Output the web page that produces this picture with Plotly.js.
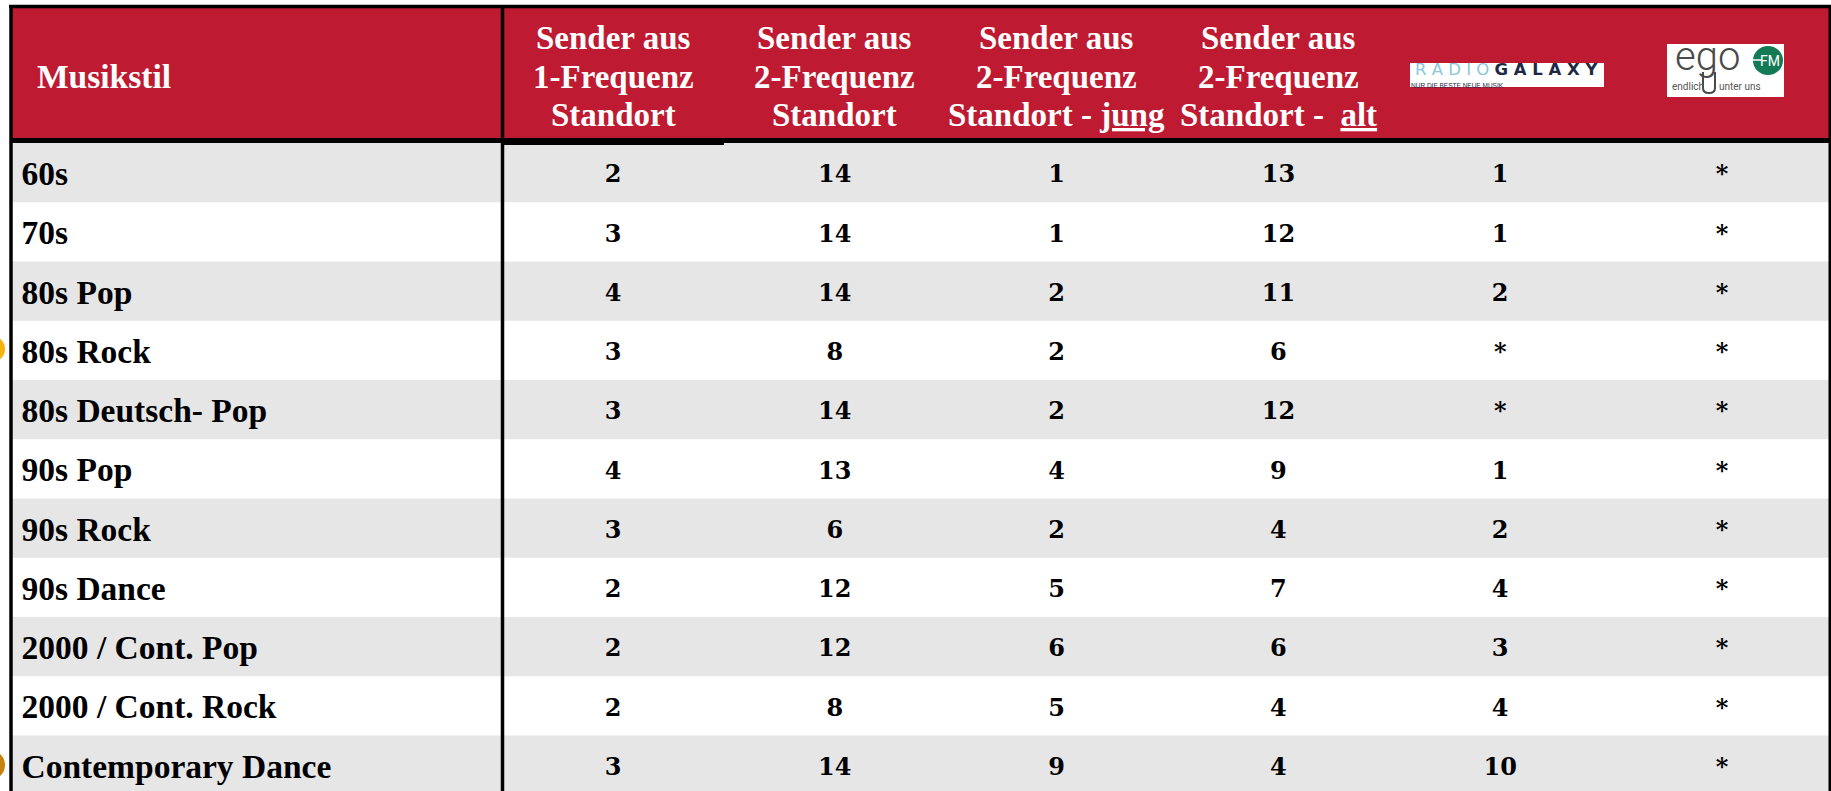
<!DOCTYPE html>
<html>
<head>
<meta charset="utf-8">
<script src="https://cdn.plot.ly/plotly-3.0.1.min.js"></script>
<style>
  html, body { margin: 0; padding: 0; background: #ffffff; }
  #chart { width: 1831px; height: 791px; }
</style>
</head>
<body>
<div id="chart"></div>
<script>
// ---------------- data ----------------
const musikstil = [
  "60s", "70s", "80s Pop", "80s Rock", "80s Deutsch- Pop", "90s Pop",
  "90s Rock", "90s Dance", "2000 / Cont. Pop", "2000 / Cont. Rock", "Contemporary Dance"
];
const sender1Frequenz      = ["2", "3", "4", "3", "3", "4", "3", "2", "2", "2", "3"];
const sender2Frequenz      = ["14", "14", "14", "8", "14", "13", "6", "12", "12", "8", "14"];
const sender2FrequenzJung  = ["1", "1", "2", "2", "2", "4", "2", "5", "6", "5", "9"];
const sender2FrequenzAlt   = ["13", "12", "11", "6", "12", "9", "4", "7", "6", "4", "4"];
const radioGalaxy          = ["1", "1", "2", "*", "*", "1", "2", "4", "3", "4", "10"];
const egoFM                = ["*", "*", "*", "*", "*", "*", "*", "*", "*", "*", "*"];

const firstHeader = "Musikstil";
const headerLines = [
  ["Sender aus", "1-Frequenz", "Standort"],
  ["Sender aus", "2-Frequenz", "Standort"],
  ["Sender aus", "2-Frequenz", "Standort - <u>jung</u>"],
  ["Sender aus", "2-Frequenz", "Standort -  <u>alt</u>"]
];
const logoRadioGalaxy = ["R A D I O", "G A L A X Y", "NUR DIE BESTE NEUE MUSIK"];
const logoEgo = ["ego", "FM", "endlich", "unter uns"];

// ---------------- layout geometry ----------------
const W = 1831, H = 791;
const tableLeft = 11, tableRight = 1830;
const headerTop = 6.5, headerBottom = 140.5;
const firstRowTop = 143, rowH = 59.25;
const divX = 502.5;
const colCenter0 = 613, colStep = 221.8;
const RED = "#BE1A31", GRAY = "#E6E6E6";

const valueColumns = [sender1Frequenz, sender2Frequenz, sender2FrequenzJung, sender2FrequenzAlt, radioGalaxy, egoFM];
const rowTop = i => firstRowTop + i * rowH;
const colX = j => colCenter0 + j * colStep;

const shapes = [];
// header background
shapes.push({type: "rect", xref: "x", yref: "y", x0: tableLeft, x1: tableRight, y0: headerTop, y1: headerBottom,
  fillcolor: RED, line: {width: 0}, layer: "below"});
// row backgrounds
musikstil.forEach((_, i) => {
  shapes.push({type: "rect", xref: "x", yref: "y", x0: tableLeft, x1: tableRight,
    y0: rowTop(i), y1: rowTop(i) + rowH + 0.5,
    fillcolor: i % 2 === 0 ? GRAY : "#FFFFFF", line: {width: 0}, layer: "below"});
});
// decorative circles at left edge
shapes.push({type: "circle", xref: "x", yref: "y", x0: -21, x1: 5, y0: 336, y1: 362,
  fillcolor: "#F4B40C", line: {width: 0}, layer: "below"});
shapes.push({type: "circle", xref: "x", yref: "y", x0: -25, x1: 5, y0: 750, y1: 780,
  fillcolor: "#C8820F", line: {width: 0}, layer: "below"});
// borders
const blk = (x0, y0, x1, y1, w) => shapes.push({type: "line", xref: "x", yref: "y", x0, y0, x1, y1,
  line: {color: "#000000", width: w}, layer: "below"});
blk(9, headerTop, W, headerTop, 3.5);              // top
blk(tableLeft, 5, tableLeft, H, 3.5);              // left
blk(tableRight, 5, tableRight, H, 3);              // right
blk(divX, 5, divX, H, 3.5);                        // first column divider
blk(tableLeft, headerBottom, tableRight, headerBottom, 5); // header bottom
shapes.push({type: "rect", xref: "x", yref: "y", x0: divX, x1: 724, y0: 138, y1: 145,
  fillcolor: "#000000", line: {width: 0}, layer: "below"});

// logos (white boxes + green circle)
shapes.push({type: "rect", xref: "x", yref: "y", x0: 1410, x1: 1604, y0: 63, y1: 87,
  fillcolor: "#FFFFFF", line: {width: 0}, layer: "below"});
shapes.push({type: "rect", xref: "x", yref: "y", x0: 1667, x1: 1784, y0: 44, y1: 97,
  fillcolor: "#FFFFFF", line: {width: 0}, layer: "below"});
shapes.push({type: "circle", xref: "x", yref: "y", x0: 1753, x1: 1783, y0: 46, y1: 75,
  fillcolor: "#137A55", line: {width: 0}, layer: "below"});
shapes.push({type: "line", xref: "x", yref: "y", x0: 1744, x1: 1762, y0: 60, y1: 60,
  line: {color: "#FFFFFF", width: 1.5}, layer: "below"});
// "g" loop of the ego logo
shapes.push({type: "path", xref: "x", yref: "y",
  path: "M 1703 72 L 1703 88 Q 1703 93 1709 93 Q 1715 93 1715 88 L 1715 72",
  line: {color: "#4A4A4A", width: 2}, layer: "below"});

// ---------------- annotations (header) ----------------
const annotations = [];
const hdrFont = {family: "Liberation Serif", size: 33, color: "#FFFFFF", weight: "bold"};
annotations.push({xref: "x", yref: "y", x: 35, y: 76, text: "<b>" + firstHeader + "</b>",
  showarrow: false, xanchor: "left", yanchor: "middle", font: {...hdrFont, size: 33.5}});
const hdrY = [38, 77, 114.5];
headerLines.forEach((lines, j) => {
  lines.forEach((t, k) => {
    annotations.push({xref: "x", yref: "y", x: colX(j), y: hdrY[k], text: "<b>" + t + "</b>",
      showarrow: false, xanchor: "center", yanchor: "middle", font: hdrFont});
  });
});
// Radio Galaxy logo text (one line, two colours)
annotations.push({xref: "x", yref: "y", x: 1507, y: 69, showarrow: false,
  text: "<span style='color:#8CC8DA'>" + logoRadioGalaxy[0] + "</span> <b>" + logoRadioGalaxy[1] + "</b>",
  xanchor: "center", yanchor: "middle", font: {family: "DejaVu Sans", size: 16.5, color: "#1D2947"}});
annotations.push({xref: "x", yref: "y", x: 1409, y: 85.3, text: logoRadioGalaxy[2], showarrow: false,
  xanchor: "left", yanchor: "middle", font: {family: "Liberation Sans", size: 6.5, color: "#1D2947"}});
// ego FM logo text
annotations.push({xref: "x", yref: "y", x: 1707, y: 56, text: logoEgo[0], showarrow: false,
  xanchor: "center", yanchor: "middle", font: {family: "Roboto", size: 40, color: "#4A4A4A", weight: 300}});
annotations.push({xref: "x", yref: "y", x: 1770, y: 60.5, text: logoEgo[1], showarrow: false,
  xanchor: "center", yanchor: "middle", font: {family: "Roboto", size: 14, color: "#FFFFFF"}});
annotations.push({xref: "x", yref: "y", x: 1670, y: 86.5, text: logoEgo[2], showarrow: false,
  xanchor: "left", yanchor: "middle", font: {family: "Roboto", size: 10, color: "#555555"}});
annotations.push({xref: "x", yref: "y", x: 1717, y: 86.5, text: logoEgo[3], showarrow: false,
  xanchor: "left", yanchor: "middle", font: {family: "Roboto", size: 10, color: "#555555"}});

// ---------------- traces (cells) ----------------
const traces = [];
traces.push({
  type: "scatter", mode: "text", hoverinfo: "skip", showlegend: false,
  x: musikstil.map(() => 21.5),
  y: musikstil.map((_, i) => rowTop(i) + 33.8),
  text: musikstil.map(s => "<b>" + s + "</b>"),
  textposition: "middle right",
  textfont: {family: "Liberation Serif", size: 33.5, color: "#000000"}
});
valueColumns.forEach((col, j) => {
  traces.push({
    type: "scatter", mode: "text", hoverinfo: "skip", showlegend: false,
    x: col.map(() => colX(j)),
    y: col.map((_, i) => rowTop(i) + 33.3),
    text: col.map(v => "<b>" + v + "</b>"),
    textposition: "middle center",
    textfont: {family: "DejaVu Serif", size: 24, color: "#000000"}
  });
});

const layout = {
  width: W, height: H,
  margin: {l: 0, r: 0, t: 0, b: 0, pad: 0},
  paper_bgcolor: "#FFFFFF", plot_bgcolor: "#FFFFFF",
  xaxis: {range: [0, W], visible: false, fixedrange: true},
  yaxis: {range: [H, 0], visible: false, fixedrange: true},
  showlegend: false,
  shapes: shapes,
  annotations: annotations
};

Plotly.newPlot("chart", traces, layout, {staticPlot: true, displayModeBar: false});
</script>
</body>
</html>
